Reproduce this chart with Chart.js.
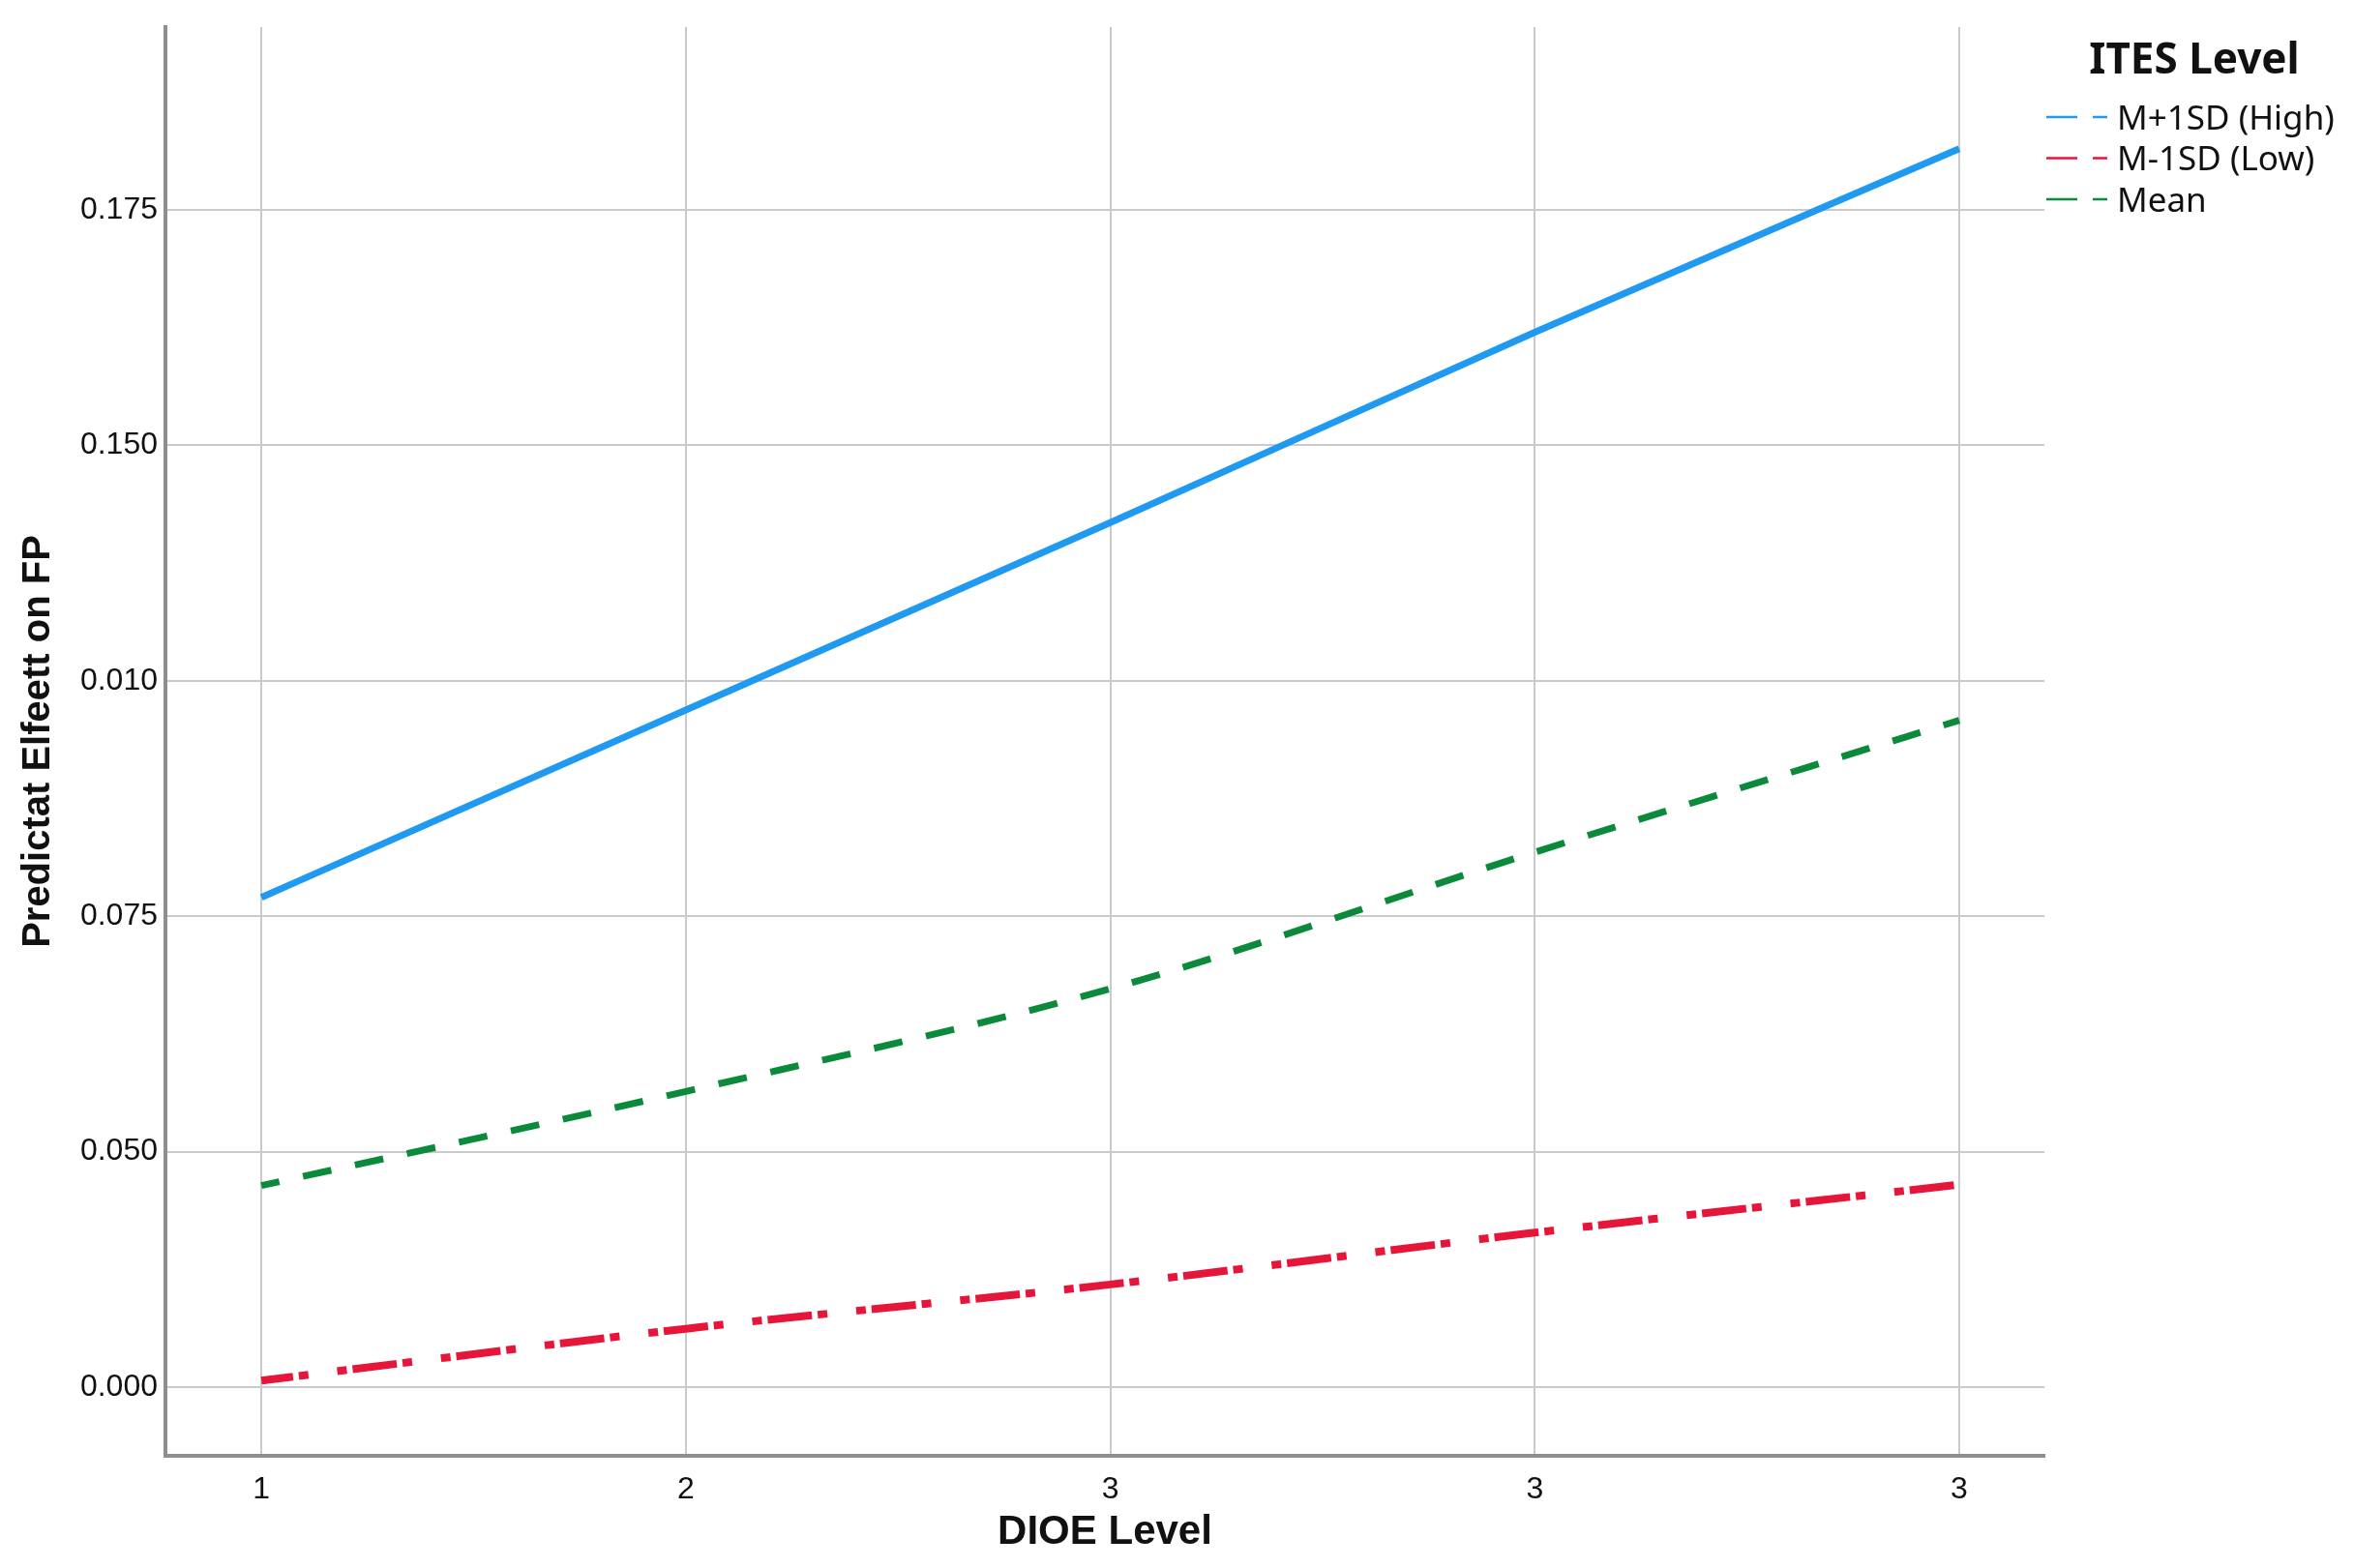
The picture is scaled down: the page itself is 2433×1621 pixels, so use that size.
<!DOCTYPE html>
<html><head><meta charset="utf-8">
<script src="https://cdn.jsdelivr.net/npm/chart.js@4.4.1/dist/chart.umd.min.js"></script>
<style>html,body{margin:0;padding:0;background:#fff;}canvas{display:block;}</style>
</head><body>
<canvas id="c" width="2433" height="1621"></canvas>
<script>
// ---- data ----
const xPositions = [1, 2, 3, 4, 5];
const xTickLabels = ['1', '2', '3', '3', '3'];
const yTickValues = [0, 0.025, 0.05, 0.075, 0.1, 0.125];
const yTickLabels = ['0.000', '0.050', '0.075', '0.010', '0.150', '0.175'];
const seriesLabels = ['M+1SD (High)', 'M-1SD (Low)', 'Mean'];
const highValues = [0.0520, 0.0719, 0.0918, 0.1120, 0.1315];
const lowValues  = [0.0007, 0.0062, 0.0109, 0.0164, 0.0215];
const meanValues = [0.0214, 0.0314, 0.0423, 0.0568, 0.0708];
const legendTitle = 'ITES Level';
const xTitle = 'DIOE Level';
const yTitle = 'Predictat Elfeett on FP';

const toPts = vals => vals.map((v, i) => ({x: xPositions[i], y: v}));

const legendPlugin = {
  id: 'itesLegend',
  afterDraw(chart) {
    const ctx = chart.ctx;
    const ca = chart.chartArea;
    ctx.save();
    ctx.fillStyle = '#111';
    ctx.font = 'bold 44px "Noto Sans", sans-serif';
    ctx.textAlign = 'center';
    ctx.textBaseline = 'middle';
    ctx.fillText(legendTitle, ca.right + 155, 63);
    ctx.font = '35px "Noto Sans", sans-serif';
    ctx.textAlign = 'left';
    chart.data.datasets.forEach((ds, i) => {
      const y = 121 + i * 42.5;
      ctx.strokeStyle = ds.borderColor;
      ctx.lineWidth = 2.5;
      ctx.setLineDash([]);
      ctx.beginPath();
      ctx.moveTo(ca.right + 2, y); ctx.lineTo(ca.right + 34, y);
      ctx.moveTo(ca.right + 50, y); ctx.lineTo(ca.right + 65, y);
      ctx.stroke();
      ctx.fillStyle = '#111';
      ctx.fillText(ds.label, ca.right + 75, y + 3);
    });
    ctx.restore();
  }
};

new Chart(document.getElementById('c'), {
  type: 'line',
  data: {
    datasets: [
      { label: seriesLabels[0], data: toPts(highValues), borderColor: '#1f9af0', borderWidth: 7,
        pointRadius: 0, cubicInterpolationMode: 'monotone', borderCapStyle: 'butt' },
      { label: seriesLabels[1], data: toPts(lowValues), borderColor: '#e6163b', borderWidth: 8,
        pointRadius: 0, cubicInterpolationMode: 'monotone', borderCapStyle: 'butt',
        borderDash: [46, 6, 10, 30, 10, 6], borderDashOffset: 13 },
      { label: seriesLabels[2], data: toPts(meanValues), borderColor: '#0a8a3a', borderWidth: 7,
        pointRadius: 0, cubicInterpolationMode: 'monotone', borderCapStyle: 'butt',
        borderDash: [30, 25], borderDashOffset: 11 }
    ]
  },
  options: {
    responsive: false,
    devicePixelRatio: 1,
    animation: false,
    layout: { padding: { top: 28, right: 320, left: 0, bottom: 0 } },
    plugins: { legend: { display: false }, tooltip: { enabled: false } },
    scales: {
      x: {
        type: 'linear', min: 0.774, max: 5.2006,
        afterBuildTicks: s => { s.ticks = xPositions.map(v => ({ value: v })); },
        afterFit: s => { s.height = 116; },
        ticks: { callback: (v, i) => xTickLabels[i], color: '#111', padding: 16,
                 font: { family: '"Liberation Sans", Arial, sans-serif', size: 32 } },
        grid: { color: '#cacaca', lineWidth: 2, drawTicks: false },
        border: { color: '#8e8e8e', width: 4 },
        title: { display: true, text: xTitle, color: '#111', padding: { top: 0, bottom: 11 },
                 font: { family: '"Liberation Sans", Arial, sans-serif', size: 42, weight: 'bold' } }
      },
      y: {
        type: 'linear', min: -0.00729, max: 0.14441,
        afterBuildTicks: s => { s.ticks = yTickValues.map(v => ({ value: v })); },
        afterFit: s => { s.width = 171; },
        ticks: { callback: (v, i) => yTickLabels[i], color: '#111', padding: 8,
                 font: { family: '"Liberation Sans", Arial, sans-serif', size: 32 } },
        grid: { color: '#cacaca', lineWidth: 2, drawTicks: false },
        border: { color: '#8e8e8e', width: 4 },
        title: { display: true, text: yTitle, color: '#111', padding: { top: 16, bottom: 0 },
                 font: { family: '"Liberation Sans", Arial, sans-serif', size: 40, weight: 'bold' } }
      }
    }
  },
  plugins: [legendPlugin]
});
</script>
</body></html>
